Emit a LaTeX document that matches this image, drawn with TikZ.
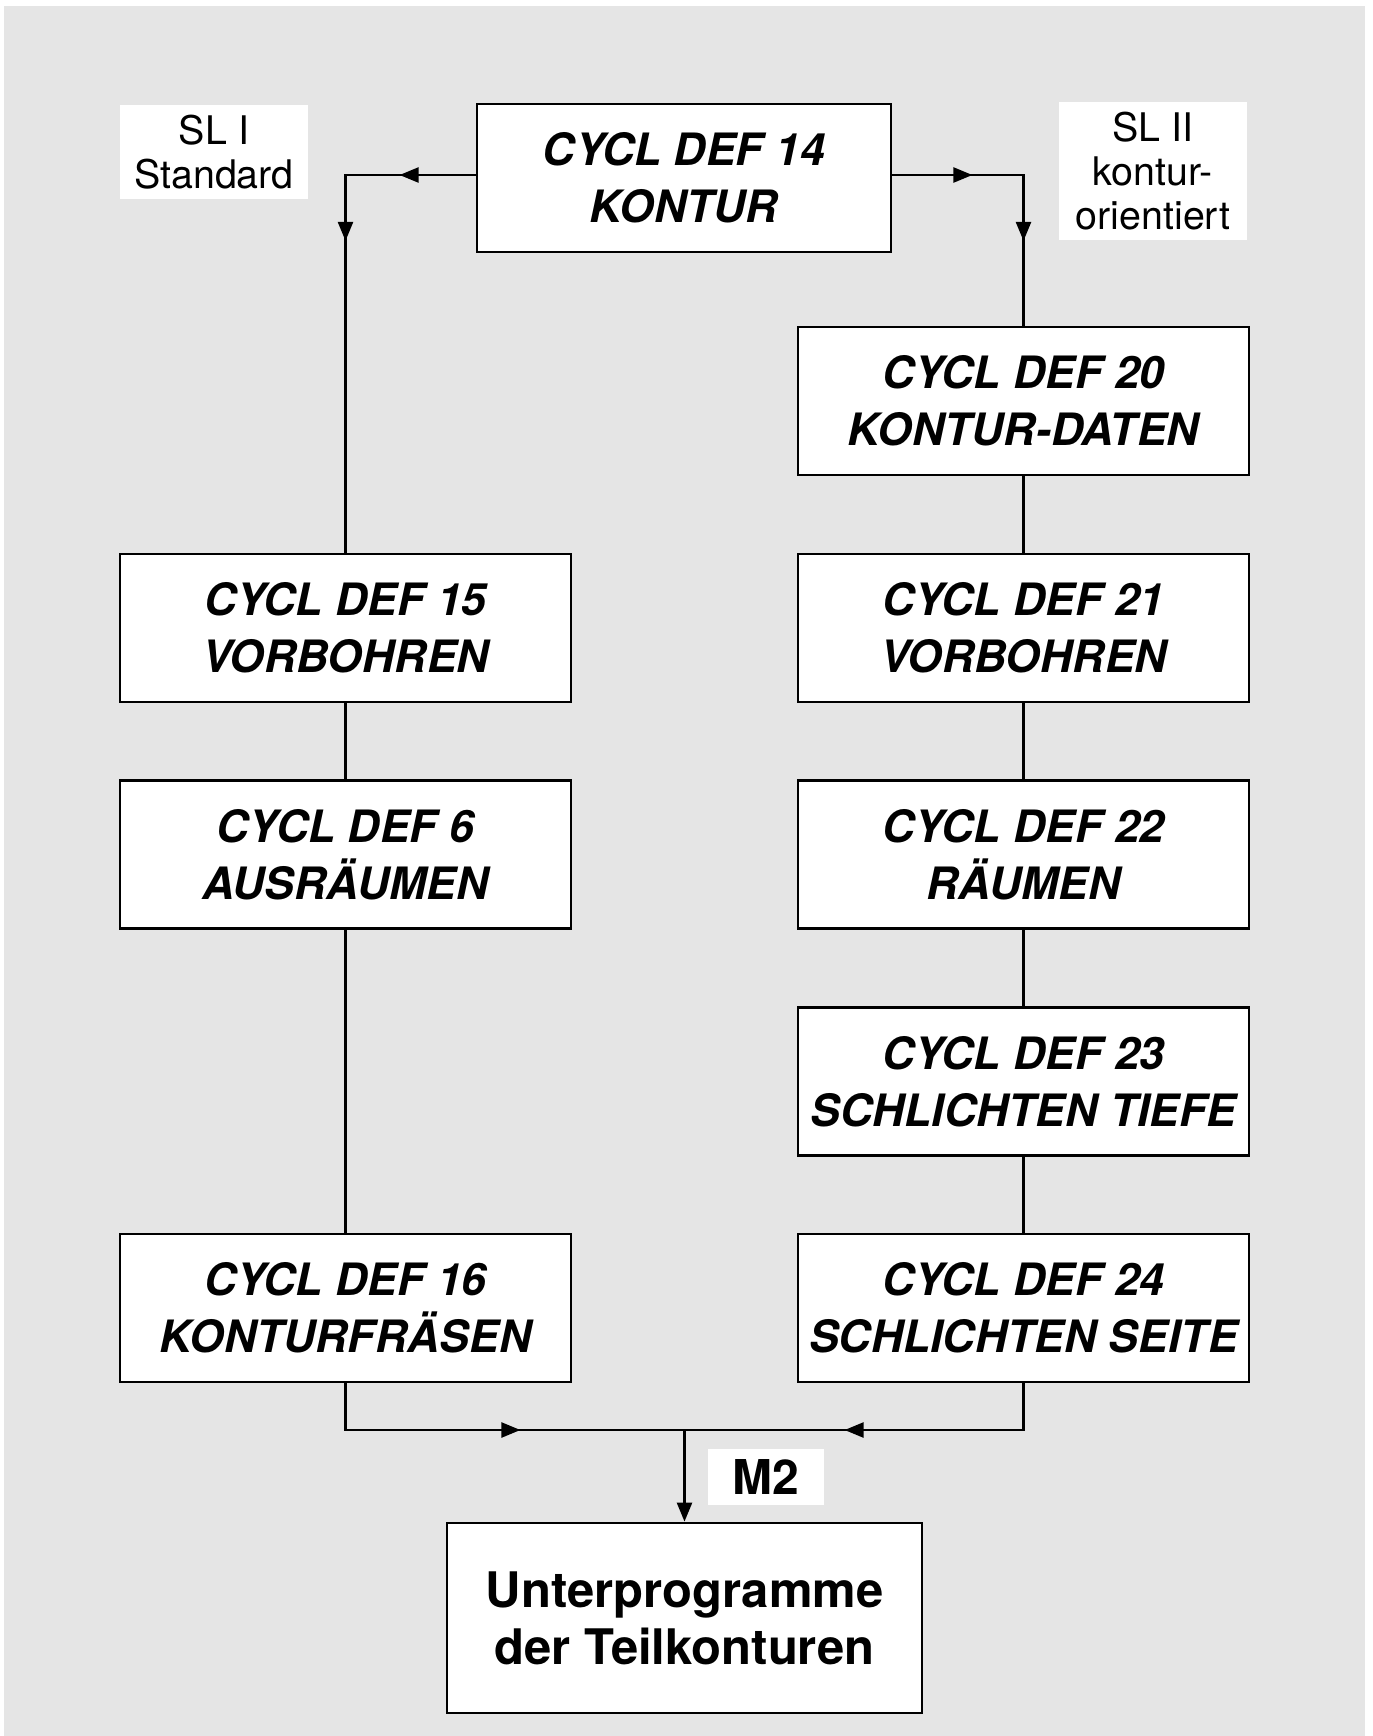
\documentclass[tikz,border=0pt]{standalone}
\usepackage{fontspec}
\setmainfont{TeX Gyre Heros}
\usetikzlibrary{arrows.meta,decorations.markings}
\definecolor{bggray}{RGB}{229,229,229}
\begin{document}
\begin{tikzpicture}[x=0.5pt,y=-0.5pt,
  cyc/.style={draw, fill=white, line width=1.4pt, minimum width=225.5pt, minimum height=74pt,
    align=center, inner sep=0pt, font=\fontsize{22.3}{28.5}\selectfont\bfseries\itshape},
  lbl/.style={fill=white, inner sep=0pt, align=center, font=\fontsize{19.7}{21.8}\selectfont},
  conn/.style={line width=1.2pt},
  twoarrows/.style 2 args={postaction={decorate}, decoration={markings,
    mark=at position #1 with {\arrow{Triangle[length=9.5pt,width=7.5pt]}},
    mark=at position #2 with {\arrow{Triangle[length=9.5pt,width=7.5pt]}}}},
  onearrow/.style={postaction={decorate}, decoration={markings,
    mark=at position #1 with {\arrow{Triangle[length=9.5pt,width=7.5pt]}}}}
]
\useasboundingbox (0,0) rectangle (1372,1736);
\fill[white] (0,0) rectangle (1372,1736);
\fill[bggray] (4,6) rectangle (1365,1736);

% labels
\node[lbl, minimum width=94pt, minimum height=47pt] (sl1) at (214,152) {SL I\\Standard};
\node[lbl, minimum width=94pt, minimum height=69pt] (sl2) at (1153,171) {SL II\\kontur-\\orientiert};

% top box
\node[cyc, minimum width=207pt] (k14) at (684,178) {CYCL DEF 14\\KONTUR};

% right column
\node[cyc] (k20) at (1023.5,401) {CYCL DEF 20\\KONTUR-DATEN};
\node[cyc] (k21) at (1023.5,628) {CYCL DEF 21\\VORBOHREN};
\node[cyc] (k22) at (1023.5,854.5) {CYCL DEF 22\\RÄUMEN};
\node[cyc] (k23) at (1023.5,1081.5) {CYCL DEF 23\\SCHLICHTEN TIEFE};
\node[cyc] (k24) at (1023.5,1308) {CYCL DEF 24\\SCHLICHTEN SEITE};

% left column
\node[cyc] (k15) at (345.5,628) {CYCL DEF 15\\VORBOHREN};
\node[cyc] (k6) at (345.5,854.5) {CYCL DEF 6\\AUSRÄUMEN};
\node[cyc] (k16) at (345.5,1308) {CYCL DEF 16\\KONTURFRÄSEN};

% bottom box
\node[draw, fill=white, line width=1.4pt, minimum width=237.5pt, minimum height=95pt,
  align=center, inner sep=0pt, font=\fontsize{24.5}{28.5}\selectfont\bfseries] (unter) at (684.5,1618)
  {Unterprogramme\\der Teilkonturen};

\coordinate (joint) at (684.5,1430);

% connectors
\draw[conn, twoarrows={38pt}{98pt}] ([yshift=1.5pt]k14.west) -| (k15.north);
\draw[conn, twoarrows={40pt}{98.5pt}] ([yshift=1.5pt]k14.east) -| (k20.north);
\draw[conn] (k20.south) -- (k21.north);
\draw[conn] (k21.south) -- (k22.north);
\draw[conn] (k22.south) -- (k23.north);
\draw[conn] (k23.south) -- (k24.north);
\draw[conn] (k15.south) -- (k6.north);
\draw[conn] (k6.south) -- (k16.north);
\draw[conn, onearrow=110.75pt] (k16.south) |- (joint);
\draw[conn, onearrow=112.75pt] (k24.south) |- (joint);
\draw[conn, -{Triangle[length=9.5pt,width=7.5pt]}] (joint) -- (unter.north);

\node[fill=white, inner sep=0pt, minimum width=58pt, minimum height=28pt,
  font=\fontsize{24}{28}\selectfont\bfseries] (m2) at (766,1477) {M2};
\end{tikzpicture}
\end{document}
